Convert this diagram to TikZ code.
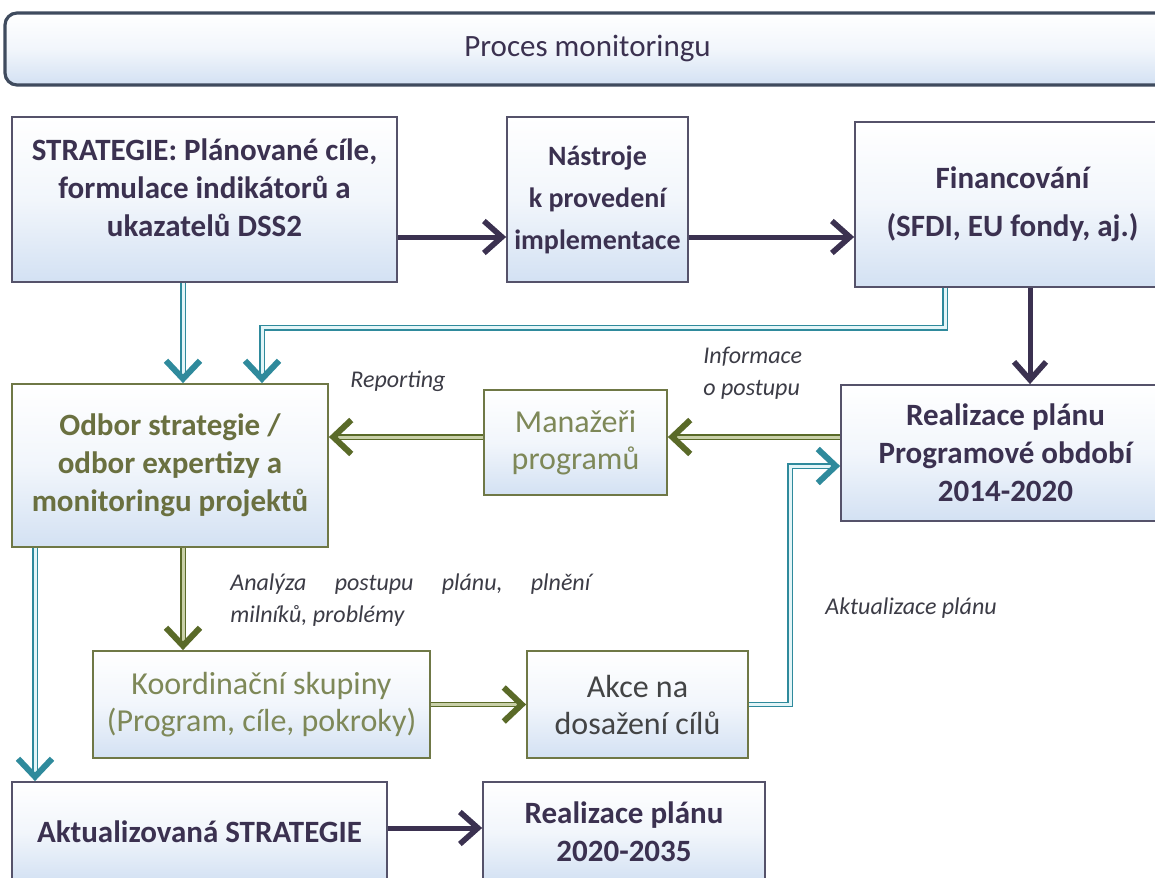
\documentclass[tikz,border=0pt]{standalone}
\usepackage{fontspec}
\setmainfont{Carlito}
\usetikzlibrary{arrows.meta,positioning}
\definecolor{darkplum}{HTML}{3B3150}
\definecolor{boxline}{HTML}{55526A}
\definecolor{titleline}{HTML}{3F4B5E}
\definecolor{boxblue}{HTML}{D3E1F3}
\definecolor{oliveline}{HTML}{6F7846}
\definecolor{olivetext}{HTML}{6A7040}
\definecolor{olivelight}{HTML}{7E8858}
\definecolor{olivearrow}{HTML}{5A6A28}
\definecolor{olivefill}{HTML}{C9D0A8}
\definecolor{tealline}{HTML}{2F8A9C}
\definecolor{tealfill}{HTML}{E3F5F8}
\definecolor{notegray}{HTML}{3C3C46}
\begin{document}
\begin{tikzpicture}[x=0.5pt,y=-0.5pt,
	box/.style={draw=boxline,line width=0.9pt,top color=white,bottom color=boxblue,middle color=white!70!boxblue,
		align=center,inner sep=0pt,text=darkplum,font=\bfseries\fontsize{15.5}{19}\selectfont},
	obox/.style={box,draw=oliveline,text=olivetext},
	lbox/.style={obox,text=olivelight,font=\fontsize{16}{18.5}\selectfont},
	marrow/.style={draw=darkplum,line width=2.5pt,-{Straight Barb[length=9pt,width=16pt,line width=2.8pt]}},
	tarrow/.style={draw=tealline,double=tealfill,double distance=1.5pt,line width=0.7pt,
		-{Straight Barb[length=9pt,width=17pt,line width=3pt]}},
	garrow/.style={tarrow,draw=olivearrow,double=olivefill},
	note/.style={font=\itshape\fontsize{12}{16}\selectfont,text=notegray,inner sep=0pt}]
	\useasboundingbox (0,0) rectangle (1155,877);
	\fill[white] (0,0) rectangle (1155,877);

	\node[box,draw=titleline,line width=1.6pt,rounded corners=6pt,minimum width=582.5pt,minimum height=36pt,
		font=\fontsize{15.5}{19}\selectfont] (title) at (587.5,49) {Proces monitoringu};

	\node[box,minimum width=192.5pt,minimum height=82.5pt,text depth=12pt] (strat) at (204.5,199.5)
		{STRATEGIE: Plánované cíle,\\formulace indikátorů a\\ukazatelů DSS2};
	\node[box,minimum width=90.5pt,minimum height=82.5pt,font=\bfseries\fontsize{14}{21}\selectfont] (nastr) at (597.5,199.5)
		{Nástroje\\k provedení\\implementace};
	\node[box,minimum width=157.5pt,minimum height=82.5pt] (fin) at (1012.5,204.5)
		{Financování\\[5pt](SFDI, EU fondy, aj.)};

	\node[obox,minimum width=158pt,minimum height=81.5pt] (odbor) at (170,465.5)
		{Odbor strategie /\\odbor expertizy a\\monitoringu projektů};
	\node[lbox,minimum width=91.5pt,minimum height=52.5pt] (manaz) at (575.5,442.5)
		{Manažeři\\programů};
	\node[box,minimum width=164.5pt,minimum height=68pt] (real1) at (1005.5,453)
		{Realizace plánu\\Programové období\\2014-2020};

	\node[lbox,minimum width=168.5pt,minimum height=53.5pt] (koord) at (261.5,704.5)
		{Koordinační skupiny\\(Program, cíle, pokroky)};
	\node[lbox,text=notegray!85!olivetext,minimum width=110.5pt,minimum height=53.5pt] (akce) at (637.5,704.5)
		{Akce na\\dosažení cílů};

	\node[box,minimum width=187.5pt,minimum height=50pt] (aktual) at (199.5,832)
		{Aktualizovaná STRATEGIE};
	\node[box,minimum width=141pt,minimum height=50pt] (real2) at (624,832)
		{Realizace plánu\\2020-2035};

	% connection
	\draw[marrow] (strat.east |- 0,237) -- (nastr.west |- 0,237);
	\draw[marrow] (nastr.east |- 0,237) -- (fin.west |- 0,237);
	\draw[marrow] (fin.south -| 1030,0) -- (real1.north -| 1030,0);
	\draw[marrow] (aktual.east |- 0,828) -- (real2.west |- 0,828);

	\draw[tarrow] (strat.south -| 183,0) -- (odbor.north -| 183,0);
	\draw[tarrow] (fin.south -| 945,0) -- ++(0,40) -| (odbor.north -| 262,0);
	\draw[tarrow] (odbor.south -| 35,0) -- (aktual.north -| 35,0);
	\coordinate (turn) at (790,466);
	\draw[tarrow] (akce.east) -| (turn) -- (real1.west |- turn);

	\draw[garrow] (real1.west |- 0,437) -- (manaz.east |- 0,437);
	\draw[garrow] (manaz.west |- 0,437) -- (odbor.east |- 0,437);
	\draw[garrow] (odbor.south -| 183,0) -- (koord.north -| 183,0);
	\draw[garrow] (koord.east) -- (akce.west);

	\node[note,anchor=west] (lrep) at (350,381) {Reporting};
	\node[note,anchor=west,align=left] (linf) at (703,373) {Informace\\ o postupu};
	\node[note,anchor=west,align=justify,text width=180pt] (lana) at (230,600)
		{Analýza\hfill postupu\hfill plánu,\hfill plnění\\milníků, problémy};
	\node[note,anchor=west] (lakt) at (825,608) {Aktualizace plánu};
\end{tikzpicture}
\end{document}
